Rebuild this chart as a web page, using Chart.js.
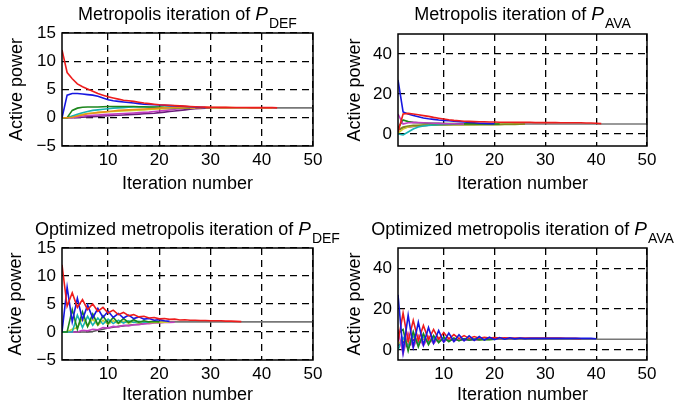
<!DOCTYPE html>
<html><head><meta charset="utf-8">
<script src="https://cdn.jsdelivr.net/npm/chart.js@4.4.0/dist/chart.umd.min.js"></script>
<style>
html,body{margin:0;padding:0;background:#fff;}
body{width:678px;height:411px;position:relative;overflow:hidden;}
canvas{position:absolute;}
</style></head><body>
<canvas id="c1" width="350" height="205" style="left:0;top:0;width:350px;height:205px"></canvas>
<canvas id="c2" width="338" height="205" style="left:340px;top:0;width:338px;height:205px"></canvas>
<canvas id="c3" width="350" height="206" style="left:0;top:205px;width:350px;height:206px"></canvas>
<canvas id="c4" width="338" height="206" style="left:340px;top:205px;width:338px;height:206px"></canvas>
<script>
// ---------- tick labels ----------
const iterTicks = [10, 20, 30, 40, 50];
const defTicks = [-5, 0, 5, 10, 15];
const avaTicks = [0, 20, 40];

// ---------- Metropolis iteration of P_DEF ----------
const A_red = [12.0, 8.0, 6.9, 6.0, 5.5, 5.1, 4.7, 4.3, 4.0, 3.7, 3.5, 3.3, 3.1, 3.0, 2.9, 2.75, 2.6, 2.5, 2.4, 2.3, 2.25, 2.2, 2.15, 2.1, 2.05, 2.0, 1.95, 1.9, 1.88, 1.86, 1.85, 1.84, 1.83, 1.82, 1.82, 1.81, 1.81, 1.8, 1.8, 1.8, 1.8, 1.79, 1.75];
const A_blue = [0, 4.0, 4.3, 4.3, 4.2, 4.1, 4.0, 3.8, 3.5, 3.2, 3.0, 2.9, 2.8, 2.7, 2.6, 2.5, 2.4, 2.35, 2.3, 2.25, 2.2, 2.15, 2.1, 2.05, 2.0, 1.95, 1.9, 1.85, 1.8];
const A_green = [0, 0, 1.3, 1.7, 1.85, 1.9, 1.9, 1.9, 1.95, 2.0, 2.0, 2.0, 2.0, 2.0, 2.0, 1.95, 1.95, 1.9, 1.9, 1.9, 1.85, 1.85, 1.8, 1.8, 1.8, 1.75];
const A_cyan = [0, 0, 0.3, 0.6, 0.9, 1.1, 1.3, 1.4, 1.5, 1.6, 1.7, 1.75, 1.8, 1.85, 1.9, 1.9, 1.9, 1.9, 1.85, 1.85, 1.8, 1.8, 1.8, 1.75];
const A_yellow = [0, 0, 0.2, 0.4, 0.6, 0.75, 0.85, 0.95, 1.0, 1.05, 1.1, 1.15, 1.2, 1.25, 1.3, 1.35, 1.4, 1.45, 1.5, 1.55, 1.6, 1.65, 1.7, 1.72, 1.74, 1.75, 1.75];
const A_magenta = [0, 0, 0, 0.15, 0.3, 0.4, 0.45, 0.5, 0.55, 0.6, 0.65, 0.7, 0.75, 0.8, 0.85, 0.9, 0.95, 1.0, 1.1, 1.2, 1.3, 1.4, 1.5, 1.6, 1.7, 1.75, 1.75];
const A_purple = [0, 0, 0, 0.05, 0.1, 0.15, 0.2, 0.25, 0.3, 0.35, 0.4, 0.45, 0.5, 0.55, 0.6, 0.65, 0.7, 0.75, 0.8, 0.9, 1.0, 1.1, 1.2, 1.3, 1.4, 1.5, 1.6, 1.65, 1.7, 1.75];
const A_orange = [0, 0, 0.1, 0.3, 0.5, 0.7, 0.8, 0.9, 1.0, 1.1, 1.2, 1.3, 1.35, 1.4, 1.45, 1.5, 1.55, 1.6, 1.65, 1.7, 1.75, 1.78, 1.8, 1.8, 1.8, 1.8, 1.8, 1.8, 1.8, 1.8, 1.8, 1.8, 1.8, 1.8, 1.78, 1.78, 1.78, 1.77, 1.77, 1.76, 1.76, 1.75];
const A_refIter = [20, 50];
const A_ref = [1.75, 1.75];

// ---------- Metropolis iteration of P_AVA ----------
const B_blue = [27, 11, 10, 9.2, 8.6, 8.0, 7.6, 7.3, 7.0, 6.8, 6.6, 6.4, 6.2, 6.0, 5.8, 5.6, 5.4, 5.3, 5.2, 5.1];
const B_red = [1, 10, 10.3, 10, 9.6, 9.2, 8.8, 8.3, 7.9, 7.5, 7.1, 6.8, 6.6, 6.4, 6.3, 6.2, 6.1, 6.1, 6.0, 6.0, 5.9, 5.9, 5.9, 5.8, 5.8, 5.8, 5.8, 5.7, 5.7, 5.7, 5.7, 5.7, 5.6, 5.6, 5.6, 5.6, 5.6, 5.5, 5.5, 5.4, 5.2];
const B_magenta = [10, 5.0, 5.6, 5.8, 5.7, 5.6, 5.5, 5.4, 5.3, 5.2, 5.1, 5.1, 5.0, 5.0];
const B_green = [3, 7, 6.2, 5.8, 5.6, 5.5, 5.4, 5.3, 5.3, 5.2, 5.2, 5.2, 5.1, 5.1, 5.1, 5.1, 5.0, 5.0, 5.0, 5.0, 5.0];
const B_olive = [2, 3.5, 4.0, 4.3, 4.4, 4.5, 4.5, 4.5, 4.6, 4.6, 4.6, 4.6, 4.6, 4.6, 4.6, 4.6, 4.7, 4.7, 4.7, 4.7, 4.7, 4.8, 4.8, 4.8, 4.9, 5.0];
const B_yellow = [0.5, 2.5, 3.5, 4.0, 4.2, 4.3, 4.4, 4.5, 4.5, 4.5, 4.6, 4.6, 4.6, 4.7, 4.7, 4.7, 4.8, 4.8, 4.8, 4.8, 4.9, 4.9, 4.9, 5.0, 5.0];
const B_cyan = [0, -0.5, 1.0, 2.5, 3.5, 4.0, 4.3, 4.5, 4.7, 4.8, 4.9, 5.0, 5.0];
const B_purple = [2, 3, 3.5, 3.8, 4.0, 4.2, 4.4, 4.5, 4.6, 4.7, 4.8, 4.9, 5.0, 5.0];
const B_refIter = [13, 50];
const B_ref = [5.0, 5.0];

// ---------- Optimized metropolis iteration of P_DEF ----------
const C_red = [12, 4.6, 7.0, 4.4, 5.8, 4.0, 5.0, 3.7, 4.4, 3.4, 3.9, 3.1, 3.5, 2.9, 3.1, 2.7, 2.8, 2.5, 2.6, 2.35, 2.4, 2.25, 2.3, 2.15, 2.2, 2.1, 2.1, 2.05, 2.05, 2.0, 2.0, 2.0, 1.95, 1.95, 1.9, 1.85];
const C_blue = [0, 8.0, 1.8, 6.0, 2.2, 4.8, 2.5, 4.2, 2.6, 3.7, 2.6, 3.3, 2.5, 3.0, 2.4, 2.7, 2.3, 2.4, 2.1, 2.2, 2.0, 1.9];
const C_green = [0, 0, 4.0, 0.5, 3.6, 1.0, 3.2, 1.3, 2.9, 1.5, 2.6, 1.6, 2.4, 1.7, 2.2, 1.75, 2.0, 1.8, 1.9, 1.8];
const C_cyan = [0, 0, 0, 3.0, 0.8, 2.8, 1.2, 2.5, 1.4, 2.3, 1.5, 2.1, 1.6, 2.0, 1.7, 1.9, 1.75, 1.8];
const C_yellow = [0, 0, 0.5, 0.8, 2.5, 1.0, 2.3, 1.2, 2.1, 1.4, 2.0, 1.5, 1.9, 1.6, 1.85, 1.65, 1.8, 1.7, 1.75, 1.7, 1.75, 1.8];
const C_magenta = [0, 0, 0, 0, 0.3, 0.2, 0.5, 0.4, 0.8, 0.7, 1.0, 0.9, 1.2, 1.1, 1.3, 1.3, 1.5, 1.5, 1.6, 1.6, 1.7, 1.7, 1.75];
const C_purple = [0, 0, 0, 0, 0, 0, 0.1, 0.3, 0.5, 0.7, 0.85, 1.0, 1.1, 1.2, 1.3, 1.4, 1.5, 1.6, 1.7, 1.8];
const C_refIter = [15, 50];
const C_ref = [1.8, 1.8];

// ---------- Optimized metropolis iteration of P_AVA ----------
const D_blue = [27, -1, 17, 1.5, 13.5, 2.5, 11, 3.3, 9.5, 3.8, 8.2, 4.1, 7.4, 4.4, 6.9, 4.6, 6.5, 4.8, 6.2, 5.0, 6.0, 5.2, 5.9, 5.4, 5.8, 5.5, 5.7, 5.6, 5.7, 5.6, 5.7, 5.6, 5.7, 5.6, 5.7, 5.6, 5.7, 5.6, 5.6, 5.4];
const D_red = [4, 18, 4, 14.5, 4.5, 12, 5, 10, 5.2, 8.5, 5.4, 7.5, 5.5, 7.0, 5.6, 6.5, 5.7, 6.2, 5.8, 6.0, 5.8, 5.9, 5.8, 5.8, 5.8, 5.8, 5.8, 5.8, 5.8, 5.8, 5.8, 5.8, 5.8, 5.7, 5.7, 5.6, 5.4];
const D_green = [8, 10, -0.5, 9, 1.5, 8, 2.5, 7, 3.5, 6.2, 4.0, 5.8, 4.4, 5.5, 4.7, 5.3, 4.9, 5.1, 5.0, 5.2];
const D_magenta = [10, -2, 8, 1, 7, 2, 6.5, 3, 6, 3.8, 5.6, 4.3, 5.3, 4.6, 5.1, 4.8, 5.0];
const D_cyan = [0, 6, 2, 7, 3, 6.5, 3.5, 6, 4, 5.6, 4.4, 5.3, 4.7, 5.1, 4.9, 5.0];
const D_yellow = [3, 5, 4, 6, 4.5, 5.5, 4.7, 5.3, 4.8, 5.2, 4.9, 5.1, 5.0, 5.1, 5.0, 5.1, 5.0, 5.1, 5.1, 5.2];
const D_purple = [2, 4, 1, 5, 3, 5.5, 4, 5.3, 4.5, 5.2, 4.8, 5.1, 5.0, 5.1, 5.2];
const D_refIter = [15, 50];
const D_ref = [5.2, 5.2];

// ---------- helpers ----------
const FONT = '"Liberation Sans", Arial, Helvetica, sans-serif';
Chart.defaults.font.family = FONT;
Chart.defaults.color = '#000';

const COL = {
  red: '#ee1c1c', blue: '#1717e0', green: '#1c861c', cyan: '#17b3b3',
  yellow: '#cfcf2e', magenta: '#c23ec2', purple: '#6b1f7c', orange: '#e8901a',
  olive: '#7f8a1a', gray: '#777777'
};

function seq(values) { return values.map((v, i) => ({x: i + 1, y: v})); }
function pairs(xs, ys) { return xs.map((x, i) => ({x: x, y: ys[i]})); }
function ds(data, color, w) {
  return {data: data, borderColor: color, backgroundColor: color, borderWidth: w || 1.6,
          pointRadius: 0, tension: 0, fill: false};
}
function minusFmt(v) { return v < 0 ? '\u2212' + Math.abs(v) : String(v); }

const framePlugin = {
  id: 'frameTitle',
  afterDraw(chart, args, opts) {
    const {ctx, chartArea: a} = chart;
    ctx.save();
    ctx.strokeStyle = '#000';
    ctx.lineWidth = 1.5;
    ctx.setLineDash([]);
    ctx.strokeRect(a.left, a.top, a.right - a.left, a.bottom - a.top);
    // title with italic symbol and subscript
    const f1 = '18px ' + FONT, f2 = 'italic 19px ' + FONT, f3 = '14px ' + FONT;
    ctx.font = f1; const w1 = ctx.measureText(opts.main).width;
    ctx.font = f2; const w2 = ctx.measureText(opts.sym).width;
    ctx.font = f3; const w3 = ctx.measureText(opts.sub).width;
    let x = (a.left + a.right) / 2 - (w1 + w2 + 1 + w3) / 2;
    const y = opts.baseline;
    ctx.fillStyle = '#000';
    ctx.textBaseline = 'alphabetic';
    ctx.textAlign = 'left';
    ctx.font = f1; ctx.fillText(opts.main, x, y); x += w1;
    ctx.font = f2; ctx.fillText(opts.sym, x, y); x += w2 + 1;
    ctx.font = f3; ctx.fillText(opts.sub, x, y + 8);
    ctx.restore();
  }
};

function makeChart(id, p) {
  new Chart(document.getElementById(id), {
    type: 'line',
    data: {datasets: p.datasets},
    plugins: [framePlugin],
    options: {
      responsive: false, animation: false, events: [],
      layout: {padding: {top: p.padTop, right: p.padRight, left: 0, bottom: 0}},
      plugins: {legend: {display: false}, tooltip: {enabled: false},
                frameTitle: {main: p.main, sym: 'P', sub: p.sub, baseline: p.baseline}},
      scales: {
        x: {
          type: 'linear', min: 1, max: 50,
          afterBuildTicks: s => { s.ticks = iterTicks.map(v => ({value: v})); },
          afterFit: s => { s.height = p.xAxisH; },
          ticks: {font: {size: 17}, padding: 4, maxRotation: 0, autoSkip: false},
          grid: {color: '#000', lineWidth: 1.3, drawTicks: false},
          border: {display: false, dash: [7, 5]},
          title: {display: true, text: 'Iteration number', font: {size: 18},
                  padding: {top: 0, bottom: p.xTitlePad}}
        },
        y: {
          type: 'linear', min: p.yMin, max: p.yMax,
          afterBuildTicks: s => { s.ticks = p.yTicks.map(v => ({value: v})); },
          afterFit: s => { s.width = p.yAxisW; },
          ticks: {font: {size: 17}, padding: 6, callback: minusFmt, autoSkip: false},
          grid: {color: '#000', lineWidth: 1.3, drawTicks: false},
          border: {display: false, dash: [7, 5]},
          title: {display: true, text: 'Active power', font: {size: 18},
                  padding: {top: p.yTitlePad, bottom: 0}}
        }
      }
    }
  });
}

makeChart('c1', {
  main: 'Metropolis iteration of ', sub: 'DEF', baseline: 19.5,
  padTop: 33, padRight: 37, xAxisH: 59, yAxisW: 62, xTitlePad: 10, yTitlePad: 6.5,
  yMin: -5, yMax: 15, yTicks: defTicks,
  datasets: [ds(seq(A_red), COL.red), ds(seq(A_blue), COL.blue), ds(seq(A_orange), COL.orange),
             ds(seq(A_green), COL.green), ds(seq(A_cyan), COL.cyan), ds(seq(A_yellow), COL.yellow),
             ds(seq(A_magenta), COL.magenta), ds(seq(A_purple), COL.purple),
             ds(pairs(A_refIter, A_ref), COL.gray, 1.6)]
});
makeChart('c2', {
  main: 'Metropolis iteration of ', sub: 'AVA', baseline: 19.5,
  padTop: 34, padRight: 31, xAxisH: 59, yAxisW: 58, xTitlePad: 10, yTitlePad: 4.7,
  yMin: -6, yMax: 50, yTicks: avaTicks,
  datasets: [ds(seq(B_red), COL.red), ds(seq(B_blue), COL.blue), ds(seq(B_magenta), COL.magenta),
             ds(seq(B_green), COL.green), ds(seq(B_cyan), COL.cyan), ds(seq(B_olive), COL.olive),
             ds(seq(B_yellow), COL.yellow), ds(seq(B_purple), COL.purple),
             ds(pairs(B_refIter, B_ref), COL.gray, 1.6)]
});
makeChart('c3', {
  main: 'Optimized metropolis iteration of ', sub: 'DEF', baseline: 30,
  padTop: 43, padRight: 37, xAxisH: 51, yAxisW: 62, xTitlePad: 5.2, yTitlePad: 5.5,
  yMin: -5, yMax: 15, yTicks: defTicks,
  datasets: [ds(seq(C_red), COL.red), ds(seq(C_blue), COL.blue), ds(seq(C_green), COL.green),
             ds(seq(C_cyan), COL.cyan), ds(seq(C_yellow), COL.yellow), ds(seq(C_magenta), COL.magenta),
             ds(seq(C_purple), '#555555'),
             ds(pairs(C_refIter, C_ref), COL.gray, 1.6)]
});
makeChart('c4', {
  main: 'Optimized metropolis iteration of ', sub: 'AVA', baseline: 30,
  padTop: 43, padRight: 31, xAxisH: 51, yAxisW: 58, xTitlePad: 5.2, yTitlePad: 4.5,
  yMin: -5, yMax: 50, yTicks: avaTicks,
  datasets: [ds(seq(D_blue), COL.blue), ds(seq(D_red), COL.red), ds(seq(D_green), COL.green),
             ds(seq(D_magenta), COL.magenta), ds(seq(D_cyan), COL.cyan), ds(seq(D_yellow), COL.yellow),
             ds(seq(D_purple), COL.purple),
             ds(pairs(D_refIter, D_ref), COL.gray, 1.6)]
});
</script>
</body></html>
